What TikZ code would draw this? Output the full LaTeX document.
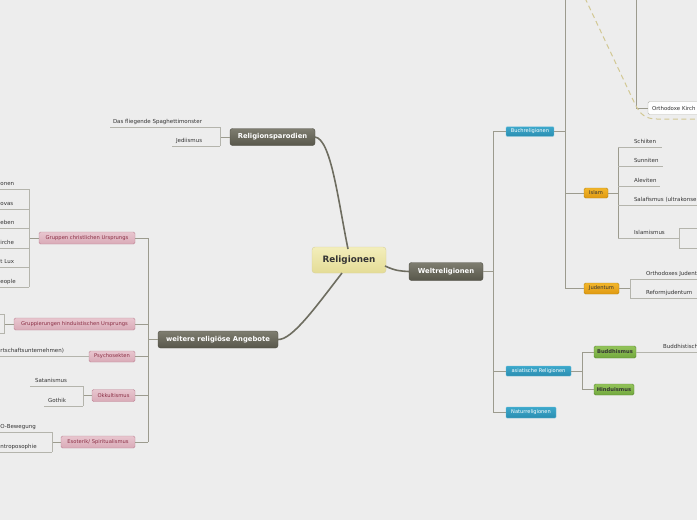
\documentclass[tikz,border=0pt]{standalone}
\usepackage{fontspec}
\setmainfont{DejaVu Sans}
\newcommand\myfs[1]{\fontsize{#1}{#1}\selectfont}
\definecolor{bgc}{HTML}{EDEDED}
\definecolor{darktop}{HTML}{7E7D70}
\definecolor{darkbot}{HTML}{58574B}
\definecolor{darkbd}{HTML}{4E4D43}
\definecolor{ctop}{HTML}{F3EEBB}
\definecolor{cbot}{HTML}{E4DC96}
\definecolor{cbd}{HTML}{D8D09A}
\definecolor{btop}{HTML}{3DA9CC}
\definecolor{bbot}{HTML}{2A8DB0}
\definecolor{bbd}{HTML}{67BBD8}
\definecolor{otop}{HTML}{F2B52A}
\definecolor{obot}{HTML}{E09A12}
\definecolor{obd}{HTML}{B98712}
\definecolor{gtop}{HTML}{93C45A}
\definecolor{gbot}{HTML}{72A83E}
\definecolor{gbd}{HTML}{5C8A33}
\definecolor{ptop}{HTML}{E8C6CF}
\definecolor{pbot}{HTML}{D9AAB7}
\definecolor{pbd}{HTML}{BF8797}
\definecolor{ptext}{HTML}{8A2E44}
\definecolor{maincol}{HTML}{6E6D60}
\definecolor{linecol}{HTML}{9C9B8E}
\definecolor{ulcol}{HTML}{B4B4AC}
\definecolor{dashcol}{HTML}{D2C893}
\definecolor{leaftext}{HTML}{333333}
\begin{document}
\begin{tikzpicture}[x=1pt,y=-1pt,
  every node/.style={inner sep=0pt, outer sep=0pt},
  centerbox/.style={draw=cbd, top color=ctop, bottom color=cbot, rounded corners=3pt, text=leaftext, font=\myfs{8.8}\bfseries},
  darkbox/.style={draw=darkbd, top color=darktop, bottom color=darkbot, rounded corners=2.5pt, text=white, font=\myfs{6.8}\bfseries},
  bluebox/.style={draw=bbd, top color=btop, bottom color=bbot, rounded corners=1pt, text=white, font=\myfs{5.1}},
  orangebox/.style={draw=obd, top color=otop, bottom color=obot, rounded corners=1.5pt, text=leaftext, font=\myfs{5.2}},
  greenbox/.style={draw=gbd, top color=gtop, bottom color=gbot, rounded corners=1.5pt, text=leaftext, font=\myfs{5.2}\bfseries},
  pinkbox/.style={draw=pbd, top color=ptop, bottom color=pbot, rounded corners=1.5pt, text=ptext, font=\myfs{5.2}},
  whitebox/.style={draw=ulcol, fill=white!95!bgc, rounded corners=1.5pt, text=leaftext, font=\myfs{5.4}},
  leaf/.style={text=leaftext, font=\myfs{5.5}},
  mainconn/.style={draw=maincol, line width=1.6pt},
  conn/.style={draw=linecol, line width=0.9pt},
  uline/.style={draw=ulcol, line width=0.8pt},
  dashline/.style={draw=dashcol, line width=1pt, dash pattern=on 5pt off 3.5pt}
]
\useasboundingbox (0,0) rectangle (697,520);
\fill[bgc] (0,0) rectangle (697,520);
\clip (0,0) rectangle (697,520);

% ---------- main nodes ----------
\node[centerbox, minimum width=74pt, minimum height=26pt] (rel) at (349,260) {Religionen};
\node[darkbox, minimum width=74pt, minimum height=18pt] (welt) at (446,271.5) {Weltreligionen};
\node[darkbox, minimum width=85pt, minimum height=17pt] (par) at (272.5,137) {Religionsparodien};
\node[darkbox, minimum width=120pt, minimum height=17pt] (weit) at (218,339.5) {weitere religiöse Angebote};

\draw[mainconn] (348,249) .. controls (338,200) and (331,139) .. (par.east);
\draw[mainconn] (342,273) .. controls (315,308) and (292,340) .. (weit.east);
\draw[mainconn] (385,266) .. controls (396,271) and (400,271) .. (welt.west);

% ---------- Weltreligionen ----------
\node[bluebox, minimum width=48pt, minimum height=9.5pt] (buch) at (530,131.5) {Buchreligionen};
\node[bluebox, minimum width=65pt, minimum height=10pt] (asia) at (538.5,371) {asiatische Religionen};
\node[bluebox, minimum width=50pt, minimum height=11pt] (natur) at (531,412.5) {Naturreligionen};
\draw[conn] (welt.east) -- (493,271.5);
\draw[conn] (493,131.5) -- (493,412.5);
\draw[conn] (493,131.5) -- (buch.west);
\draw[conn] (493,371) -- (asia.west);
\draw[conn] (493,412.5) -- (natur.west);

% Buchreligionen
\node[orangebox, minimum width=24pt, minimum height=10pt] (islam) at (596,193) {Islam};
\node[orangebox, minimum width=35pt, minimum height=11pt] (jud) at (601.5,288.5) {Judentum};
\draw[conn] (buch.east) -- (565,131.5);
\draw[conn] (565,-5) -- (565,288.5);
\draw[conn] (565,193) -- (islam.west);
\draw[conn] (565,288.5) -- (jud.west);

% Orthodoxe Kirche (parent lies above the picture)
\node[whitebox, anchor=west, minimum height=13pt, text width=72pt, inner xsep=4pt, align=left] (orth) at (648,108) {Orthodoxe Kirch};
\draw[conn] (636.5,-5) |- (orth.west);
\draw[dashline] (585,-2) -- (635,104) .. controls (640,114) and (645,119) .. (657,119) -- (700,119);

% Islam leaves
\draw[conn] (islam.east) -- (618,193);
\draw[conn] (618,147) -- (618,238);
\node[leaf, anchor=base west] (schi) at (634,143.5) {Schiiten};
\draw[uline] (618,147) -- (662,147);
\node[leaf, anchor=base west] (sunn) at (634,162.5) {Sunniten};
\draw[uline] (618,166) -- (663,166);
\node[leaf, anchor=base west] (alev) at (634,182.5) {Aleviten};
\draw[uline] (618,186) -- (660,186);
\node[leaf, anchor=base west] (sala) at (634,201.5) {Salafismus (ultrakonse};
\draw[uline] (618,205) -- (700,205);
\node[leaf, anchor=base west] (isla) at (634,234.5) {Islamismus};
\draw[uline] (618,238) -- (679,238);
\draw[uline] (700,228) -- (679,228) -- (679,248) -- (700,248);

% Judentum leaves
\draw[conn] (jud.east) -- (630,288.5);
\draw[uline] (630,279) -- (630,298);
\node[leaf, anchor=base west] (orju) at (646,275) {Orthodoxes Judent};
\draw[uline] (630,279) -- (700,279);
\node[leaf, anchor=base west] (refj) at (646,294.5) {Reformjudentum};
\draw[uline] (630,298) -- (697,298);

% asiatische Religionen
\node[greenbox, minimum width=42pt, minimum height=12pt] (bud) at (615,352) {Buddhismus};
\node[greenbox, minimum width=40pt, minimum height=11pt] (hin) at (614,389.5) {Hinduismus};
\draw[conn] (asia.east) -- (582,371);
\draw[conn] (582,352) -- (582,389.5);
\draw[conn] (582,352) -- (bud.west);
\draw[conn] (582,389.5) -- (hin.west);
\node[leaf, anchor=base west] (budl) at (663,348.5) {Buddhistisch};
\draw[uline] (bud.east) -- (700,352);

% ---------- Religionsparodien ----------
\draw[conn] (par.west) -- (220,137);
\draw[uline] (220,127) -- (220,146);
\node[leaf, anchor=base west] (spag) at (113,123.5) {Das fliegende Spaghettimonster};
\draw[uline] (110,127) -- (220,127);
\node[leaf, anchor=base west] (jedi) at (176,142.5) {Jediismus};
\draw[uline] (172,146) -- (220,146);

% ---------- weitere religiöse Angebote ----------
\node[pinkbox, minimum width=96pt, minimum height=12pt] (chr) at (87,238) {Gruppen christlichen Ursprungs};
\node[pinkbox, minimum width=121pt, minimum height=12pt] (hind) at (74.5,324) {Gruppierungen hinduistischen Ursprungs};
\node[pinkbox, minimum width=46pt, minimum height=11pt] (psy) at (112,356.5) {Psychosekten};
\node[pinkbox, minimum width=43pt, minimum height=12pt] (okk) at (113.5,395.5) {Okkultismus};
\node[pinkbox, minimum width=74pt, minimum height=12pt] (eso) at (98,442) {Esoterik/ Spiritualismus};
\draw[conn] (weit.west) -- (148,339.5);
\draw[conn] (148,238) -- (148,442);
\draw[conn] (148,238) -- (chr.east);
\draw[conn] (148,324) -- (hind.east);
\draw[conn] (148,356.5) -- (psy.east);
\draw[conn] (148,395.5) -- (okk.east);
\draw[conn] (148,442) -- (eso.east);

% Gruppen christlichen Ursprungs leaves
\draw[conn] (chr.west) -- (29,238);
\draw[uline] (29,189) -- (29,287);
\node[leaf, anchor=base west] (c1) at (0.5,185.5) {onen};
\draw[uline] (0,189) -- (29,189);
\node[leaf, anchor=base west] (c2) at (0.5,205.5) {ovas};
\draw[uline] (0,209) -- (29,209);
\node[leaf, anchor=base west] (c3) at (0.5,224.5) {eben};
\draw[uline] (0,228) -- (29,228);
\node[leaf, anchor=base west] (c4) at (0.5,244.5) {irche};
\draw[uline] (0,248) -- (29,248);
\node[leaf, anchor=base west] (c5) at (0.5,263.5) {t Lux};
\draw[uline] (0,267) -- (29,267);
\node[leaf, anchor=base west] (c6) at (0.5,283.5) {eople};
\draw[uline] (0,287) -- (29,287);

% Gruppierungen hinduistischen Ursprungs
\draw[conn] (hind.west) -- (4,324);
\draw[uline] (0,314) -- (4,314) -- (4,333) -- (0,333);

% Psychosekten
\node[leaf, anchor=base west] (psl) at (0.5,352.5) {rtschaftsunternehmen)};
\draw[uline] (0,356.5) -- (psy.west);

% Okkultismus
\draw[conn] (okk.west) -- (83,395.5);
\draw[uline] (83,386) -- (83,406);
\node[leaf, anchor=base east] (sat) at (67,382.5) {Satanismus};
\draw[uline] (30,386) -- (83,386);
\node[leaf, anchor=base east] (got) at (66,402.5) {Gothik};
\draw[uline] (44,406) -- (83,406);

% Esoterik
\draw[conn] (eso.west) -- (52,442);
\draw[uline] (52,432) -- (52,452);
\node[leaf, anchor=base west] (e1) at (0.5,428.5) {O-Bewegung};
\draw[uline] (0,432) -- (52,432);
\node[leaf, anchor=base west] (e2) at (0.5,448.5) {ntroposophie};
\draw[uline] (0,452) -- (52,452);
\end{tikzpicture}
\end{document}
